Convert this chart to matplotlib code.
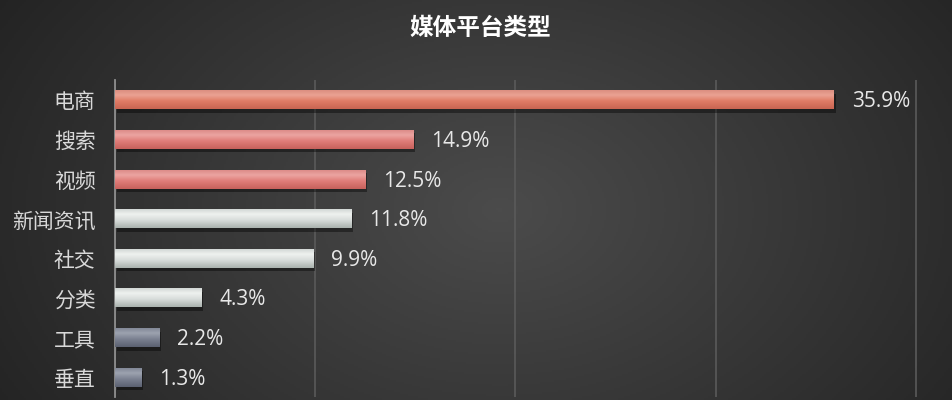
import numpy as np
import matplotlib.pyplot as plt
from matplotlib import patheffects
from matplotlib.colors import LinearSegmentedColormap

# 数据
categories = ['电商', '搜索', '视频', '新闻资讯', '社交', '分类', '工具', '垂直']
shares = [35.9, 14.9, 12.5, 11.8, 9.9, 4.3, 2.2, 1.3]
value_labels = ['35.9%', '14.9%', '12.5%', '11.8%', '9.9%', '4.3%', '2.2%', '1.3%']
groups = ['orange', 'red', 'red', 'light', 'light', 'light', 'dark', 'dark']
title = '媒体平台类型'

plt.rcParams['font.family'] = ['Noto Sans CJK SC', 'DejaVu Sans']

# 每组柱子的竖向渐变色（上 -> 高光 -> 中 -> 下）
gradients = {
    'orange': ['#d98a7c', '#eaa293', '#e07c66', '#c96552'],
    'red': ['#d98784', '#eba4a1', '#e07d79', '#c7615c'],
    'light': ['#cdd3d0', '#eef1ef', '#d8dddb', '#aab2ae'],
    'dark': ['#7e8493', '#9ca2af', '#7b8191', '#5b6171'],
}

fig = plt.figure(figsize=(9.52, 4), dpi=100)

# 背景：深灰径向渐变
bg = fig.add_axes([0, 0, 1, 1], zorder=0)
xx, yy = np.meshgrid(np.linspace(0, 952, 476), np.linspace(0, 400, 200))
r = np.clip(np.sqrt(((xx - 500) / 620) ** 2 + ((yy - 210) / 430) ** 2), 0, 1)
level = 0.295 * (1 - r) + 0.13 * r
bg.imshow(np.dstack([level, level, level]), extent=[0, 952, 400, 0], aspect='auto')
bg.axis('off')

ax = fig.add_axes([115 / 952, 3 / 400, 802 / 952, 317 / 400], zorder=1)
ax.patch.set_alpha(0)

y = np.arange(len(categories))
bars = ax.barh(y, shares, height=0.48, color=[gradients[g][2] for g in groups], zorder=3)

shade = np.linspace(0, 1, 64).reshape(-1, 1)
for bar, g in zip(bars, groups):
    bar.set_path_effects([patheffects.SimplePatchShadow(offset=(1.5, -2.5), shadow_rgbFace='black', alpha=0.4),
                          patheffects.Normal()])
    cmap = LinearSegmentedColormap.from_list(g, list(zip([0, 0.3, 0.6, 1], gradients[g])))
    x0, y0 = bar.get_x(), bar.get_y()
    im = ax.imshow(shade, extent=[x0, x0 + bar.get_width(), y0 + bar.get_height(), y0],
                   aspect='auto', cmap=cmap, zorder=4, interpolation='bilinear')
    im.set_clip_path(bar)

for i, (v, lab) in enumerate(zip(shares, value_labels)):
    ax.text(v + 0.9, i + 0.05, lab, ha='left', va='center', fontsize=15, color='#e8e8e8',
            family=['Open Sans', 'DejaVu Sans'], zorder=5)

ax.set_xlim(0, 40.05)
ax.set_ylim(7.5, -0.5)
ax.set_xticks([0, 10, 20, 30, 40])
ax.set_xticklabels([])
ax.xaxis.grid(True, color='#5a5a5a', linewidth=1.2)
ax.set_axisbelow(True)
ax.tick_params(axis='x', length=0)
ax.set_yticks(y, categories)
ax.tick_params(axis='y', length=0, pad=14, labelsize=15, labelcolor='#d9d9d9')
for side in ['top', 'right', 'bottom']:
    ax.spines[side].set_visible(False)
ax.spines['left'].set_color('#8e8e8e')
ax.spines['left'].set_linewidth(1.3)

fig.text(480 / 952, 1 - 28 / 400, title, ha='center', va='center', fontsize=17,
         fontweight='bold', color='white')

fig.savefig('out.png', dpi=100)
